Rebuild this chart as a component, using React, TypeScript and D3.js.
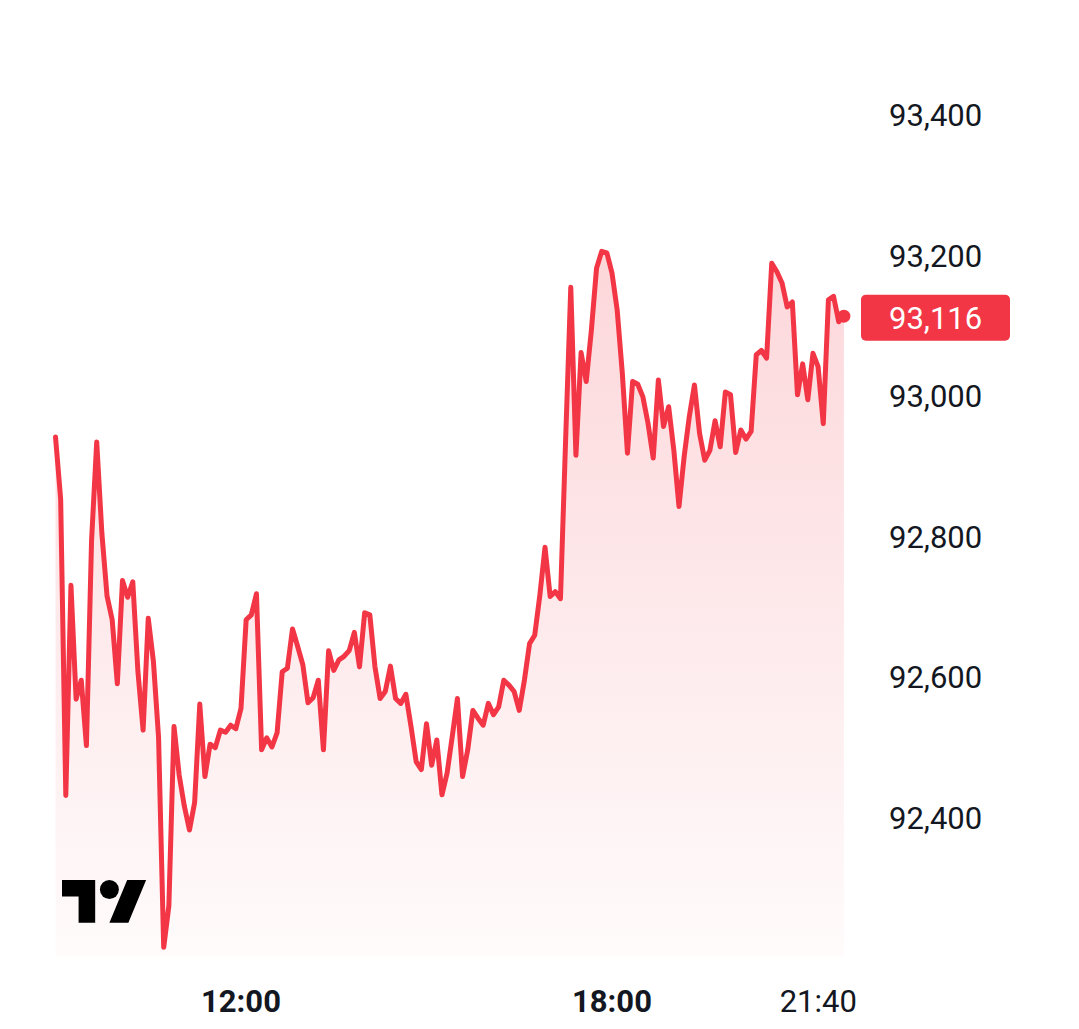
import React from "react";
import * as d3 from "d3";

// ---- data (5-minute samples, starting 09:00) ----
const START_MIN = 9 * 60;
const STEP_MIN = 5;
const prices: number[] = [
  92942, 92854, 92432, 92731, 92569, 92596, 92503, 92795, 92935, 92805,
  92716, 92682, 92591, 92738, 92714, 92736, 92608, 92525, 92684, 92623,
  92515, 92216, 92275, 92530, 92461, 92417, 92383, 92422, 92562, 92459,
  92505, 92500, 92525, 92522, 92532, 92527, 92556, 92682, 92689, 92719,
  92497, 92514, 92501, 92521, 92608, 92613, 92669, 92644, 92618, 92564,
  92571, 92596, 92497, 92638, 92610, 92625, 92630, 92638, 92664, 92615,
  92692, 92689, 92615, 92570, 92580, 92616, 92570, 92563, 92576, 92530,
  92480, 92469, 92534, 92475, 92511, 92433, 92464, 92516, 92570, 92459,
  92497, 92553, 92542, 92532, 92563, 92547, 92558, 92596, 92589, 92580,
  92553, 92596, 92648, 92660, 92717, 92785, 92715, 92722, 92712, 92938,
  93155, 92916, 93062, 93021, 93094, 93182, 93206, 93204, 93175, 93123,
  93033, 92919, 93021, 93017, 92999, 92961, 92912, 93023, 92957, 92985,
  92923, 92843, 92914, 92971, 93016, 92947, 92909, 92923, 92965, 92928,
  93006, 93002, 92920, 92952, 92939, 92950, 93059, 93065, 93054, 93189,
  93177, 93161, 93127, 93134, 93002, 93046, 92995, 93061, 93042, 92961,
  93137, 93142, 93106, 93116,
];
const priceTicks: number[] = [92400, 92600, 92800, 93000, 93200, 93400];
const timeTicks: { min: number; label: string }[] = [
  { min: 12 * 60, label: "12:00" },
  { min: 18 * 60, label: "18:00" },
];
const lastTimeLabel = "21:40";

const RED = "#f23645";
const TEXT = "#131722";
const FONT = "Roboto, 'Noto Sans', sans-serif";

export default function App() {
  const W = 1079;
  const H = 1029;
  const data = prices.map((p, i) => ({ t: START_MIN + i * STEP_MIN, p }));

  const x = d3.scaleLinear().domain([12 * 60, 18 * 60]).range([241, 612]);
  const y = d3.scaleLinear().domain([92400, 93400]).range([818, 115]);
  const bottom = 956;

  const line = d3
    .line<{ t: number; p: number }>()
    .x((d) => x(d.t))
    .y((d) => y(d.p));
  const area = d3
    .area<{ t: number; p: number }>()
    .x((d) => x(d.t))
    .y0(bottom)
    .y1((d) => y(d.p));

  const last = data[data.length - 1];
  const lx = x(last.t);
  const ly = y(last.p);
  const maxY = y(d3.max(prices) as number);

  const fmt = d3.format(",");

  return (
    <svg
      width={W}
      height={H}
      style={{ position: "absolute", left: 0, top: 0, background: "#fff" }}
      fontFamily={FONT}
    >
      <defs>
        <linearGradient
          id="areaGrad"
          gradientUnits="userSpaceOnUse"
          x1={0}
          x2={0}
          y1={maxY}
          y2={bottom}
        >
          <stop offset="0" stopColor={RED} stopOpacity={0.2} />
          <stop offset="1" stopColor={RED} stopOpacity={0.02} />
        </linearGradient>
      </defs>
      <rect x={0} y={0} width={W} height={H} fill="#fff" />

      <path d={area(data) || ""} fill="url(#areaGrad)" />
      <path
        d={line(data) || ""}
        fill="none"
        stroke={RED}
        strokeWidth={5}
        strokeLinejoin="round"
        strokeLinecap="round"
      />
      <circle cx={lx} cy={ly + 1.5} r={6.5} fill={RED} />

      {/* TradingView logo */}
      <g transform="translate(62,870.5) scale(2.37)" fill="#000">
        <path d="M14 22H7V11H0V4h14v18zM28 22h-8l7.5-18h8L28 22z" />
        <circle cx={20} cy={8} r={4} />
      </g>

      {/* price scale */}
      {priceTicks.map((v) => (
        <text
          key={v}
          x={889}
          y={y(v) + 11}
          fontSize={31}
          fill={TEXT}
        >
          {fmt(v)}
        </text>
      ))}

      {/* last price label */}
      <rect x={861} y={ly - 20} width={149} height={46} rx={5} fill={RED} />
      <text x={889} y={ly + 14} fontSize={31} fill="#fff">
        {fmt(last.p)}
      </text>

      {/* time scale */}
      {timeTicks.map((tk) => (
        <text
          key={tk.label}
          x={x(tk.min)}
          y={1012}
          fontSize={31}
          fontWeight={700}
          fill={TEXT}
          textAnchor="middle"
        >
          {tk.label}
        </text>
      ))}
      <text x={lx + 13} y={1012} fontSize={31} fill={TEXT} textAnchor="end">
        {lastTimeLabel}
      </text>
    </svg>
  );
}
